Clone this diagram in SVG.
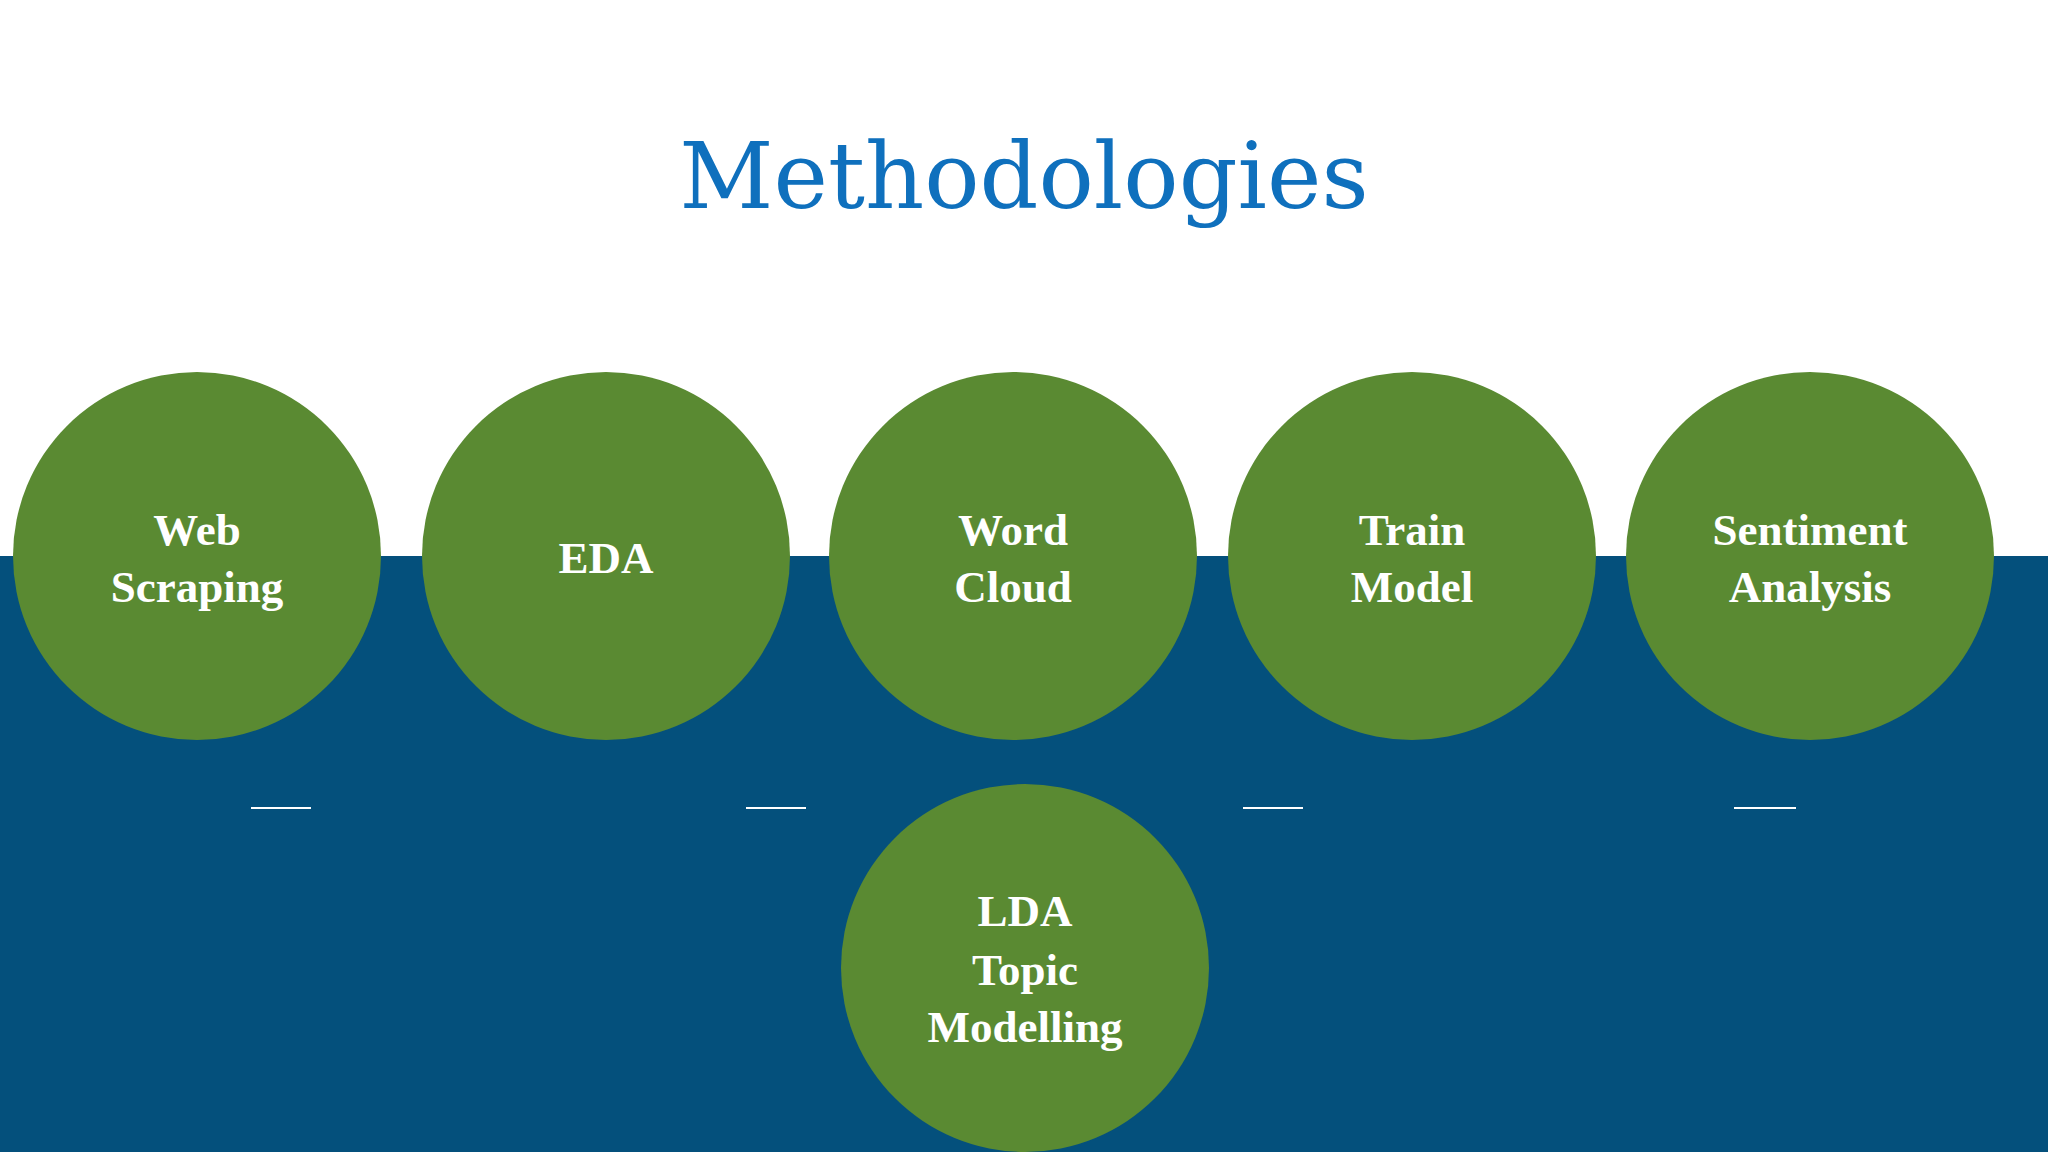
<svg xmlns="http://www.w3.org/2000/svg" width="2048" height="1152" viewBox="0 0 2048 1152">
<style>
.c{fill:#5a8a32}
.t{font-family:"Liberation Serif",serif;font-weight:bold;font-size:45px;fill:#fff;text-anchor:middle}
.d{stroke:#fff;stroke-width:2}
</style>
<rect width="2048" height="1152" fill="#fff"/>
<rect y="556" width="2048" height="596" fill="#04507c"/>
<text x="1024" y="208" font-family="Roboto Slab,DejaVu Serif,serif" font-size="92" fill="#0f70bd" text-anchor="middle">Methodologies</text>
<g id="connectors">
<line class="d" x1="251" y1="808" x2="311" y2="808"/>
<line class="d" x1="746" y1="808" x2="806" y2="808"/>
<line class="d" x1="1243" y1="808" x2="1303" y2="808"/>
<line class="d" x1="1734" y1="808" x2="1796" y2="808"/>
</g>
<g id="n1"><circle class="c" cx="197" cy="556" r="184"/><text class="t" x="197" y="545">Web</text><text class="t" x="197" y="602">Scraping</text></g>
<g id="n2"><circle class="c" cx="606" cy="556" r="184"/><text class="t" x="606" y="573">EDA</text></g>
<g id="n3"><circle class="c" cx="1013" cy="556" r="184"/><text class="t" x="1013" y="545">Word</text><text class="t" x="1013" y="602">Cloud</text></g>
<g id="n4"><circle class="c" cx="1412" cy="556" r="184"/><text class="t" x="1412" y="545">Train</text><text class="t" x="1412" y="602">Model</text></g>
<g id="n5"><circle class="c" cx="1810" cy="556" r="184"/><text class="t" x="1810" y="545">Sentiment</text><text class="t" x="1810" y="602">Analysis</text></g>
<g id="n6"><circle class="c" cx="1025" cy="968" r="184"/><text class="t" x="1025" y="926">LDA</text><text class="t" x="1025" y="985">Topic</text><text class="t" x="1025" y="1042">Modelling</text></g>
</svg>
